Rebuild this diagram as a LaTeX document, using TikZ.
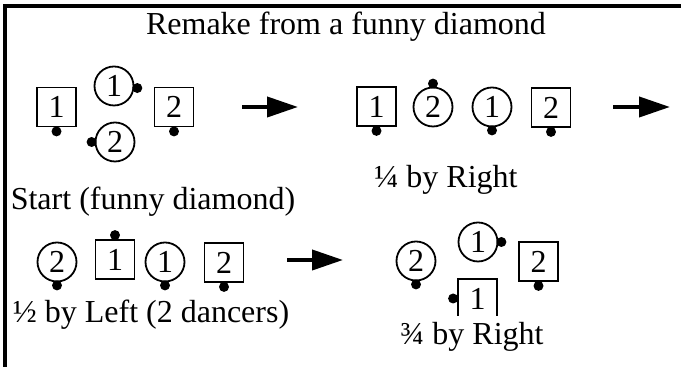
\documentclass[tikz,border=0pt]{standalone}
\usepackage{fontspec}
\setmainfont{Liberation Serif}
\usepackage{tikz}
\usetikzlibrary{arrows.meta, calc}

\tikzset{
  boy/.style={draw, line width=0.9pt, rectangle, minimum size=19.5pt, inner sep=0pt},
  girl/.style={draw, line width=0.9pt, circle, minimum size=19.5pt, inner sep=0pt},
  dot/.style={fill, circle, minimum size=5pt, inner sep=0pt},
  move/.style={line width=2pt, -{Triangle[length=15.5pt, width=10pt]}},
  caption/.style={anchor=base, inner sep=0pt}
}

\begin{document}
\begin{tikzpicture}[x=0.5pt, y=-0.5pt, font=\fontsize{16}{19}\selectfont]
  \useasboundingbox (0,0) rectangle (681,367);
  \draw[line width=1.75pt] (5,372) -- (5,6) -- (690,6);

  \node[caption] (title) at (346,35) {Remake from a funny diamond};

  \foreach \nm/\px/\py/\txt/\at in {sA1/56.5/107/1/south, sA2/174/107/2/south,
      sB1/376.5/106.5/1/south, sB2/551/107.5/2/south,
      sC1/115/259.5/1/north, sC2/224/262.5/2/south,
      sD2/538.5/261.5/2/south, sD1/477.5/298.5/1/west}{
    \node[boy] (\nm) at (\px,\py) {\txt};
    \node[dot] (\nm-d) at ($(\nm.\at)!-2pt!(\nm.center)$) {};
  }
  \foreach \nm/\px/\py/\txt/\at in {cA1/114/86/1/-5, cA2/115/142/2/west,
      cB2/433/107/2/north, cB1/492/107/1/south,
      cC2/57/262/2/south, cC1/165/262/1/south,
      cD2/416/261/2/south, cD1/478/242/1/east}{
    \node[girl] (\nm) at (\px,\py) {\txt};
    \node[dot] (\nm-d) at ($(\nm.\at)!-1.5pt!(\nm.center)$) {};
  }

  \node[caption] (lA) at (153,210) {Start (funny diamond)};
  \node[caption] (lB) at (446,188) {¼ by Right};
  \node[caption] (lC) at (151,323) {½ by Left (2 dancers)};
  \node[caption, fill=white, inner ysep=3.5pt] (lD) at (472,345) {¾ by Right};

  \coordinate (aA) at (242,107);
  \coordinate (aA') at (298,107);
  \coordinate (aB) at (613,107);
  \coordinate (aB') at (670,107);
  \coordinate (aC) at (287,260);
  \coordinate (aC') at (343,260);
  \draw[move] (aA) -- (aA');
  \draw[move] (aB) -- (aB');
  \draw[move] (aC) -- (aC');
\end{tikzpicture}
\end{document}
